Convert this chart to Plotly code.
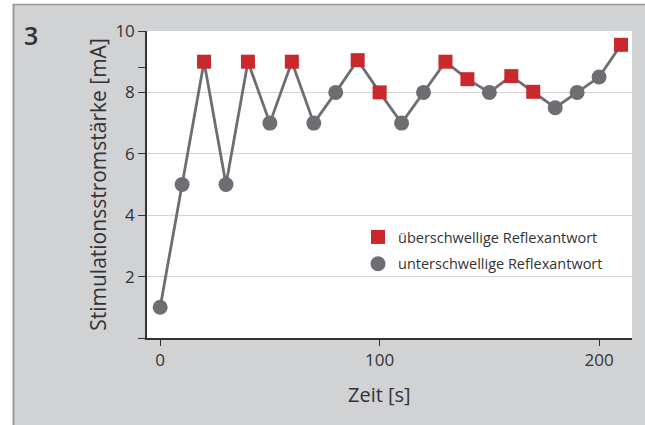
import plotly.graph_objects as go

# Data
zeit = [0, 10, 20, 30, 40, 50, 60, 70, 80, 90, 100, 110, 120, 130, 140, 150, 160, 170, 180, 190, 200, 210]
strom = [1, 5, 9, 5, 9, 7, 9, 7, 8, 9.05, 8, 7, 8, 9, 8.43, 8, 8.53, 8.02, 7.5, 8, 8.5, 9.55]
ueber = [False, False, True, False, True, False, True, False, False, True, True, False, False, True, True, False, True, True, False, False, False, True]

x_ticks = [0, 100, 200]
y_ticks = [0, 2, 4, 6, 8, 10]
y_ticktext = ["", "2", "4", "6", "8", "10"]

RED = "#c9282d"
GRAY = "#6d6e72"
TXT = "#333335"
BG = "#d1d2d4"
FONT = "Open Sans"

xs_u = [x for x, f in zip(zeit, ueber) if f]
ys_u = [y for y, f in zip(strom, ueber) if f]
xs_n = [x for x, f in zip(zeit, ueber) if not f]
ys_n = [y for y, f in zip(strom, ueber) if not f]

fig = go.Figure()
fig.add_trace(go.Scatter(x=zeit, y=strom, mode="lines", line=dict(color=GRAY, width=2.8),
                         showlegend=False, hoverinfo="skip", cliponaxis=False))
fig.add_trace(go.Scatter(x=xs_u, y=ys_u, mode="markers", name="überschwellige Reflexantwort",
                         marker=dict(symbol="square", size=14, color=RED), legendgroup="a",
                         cliponaxis=False))
fig.add_trace(go.Scatter(x=xs_n, y=ys_n, mode="markers", name="unterschwellige Reflexantwort",
                         marker=dict(symbol="circle", size=15, color=GRAY), legendgroup="b",
                         cliponaxis=False))

W, H = 645, 425
L, R, T, B = 147, 13, 31, 87
pw, ph = W - L - R, H - T - B

def px(xp):
    return (xp - L) / pw

def py(yp):
    return (H - B - yp) / ph

fig.update_layout(
    width=W, height=H,
    margin=dict(l=L, r=R, t=T, b=B, pad=0),
    paper_bgcolor=BG, plot_bgcolor="white",
    font=dict(family=FONT, color=TXT),
    showlegend=True,
    legend=dict(x=px(358), y=py(221), xanchor="left", yanchor="top",
                bgcolor="rgba(0,0,0,0)", font=dict(size=14.5, color=TXT),
                tracegroupgap=5, traceorder="grouped"),
    xaxis=dict(range=[-6, 215], tickvals=x_ticks, ticks="outside", ticklen=6,
               tickcolor=TXT, tickwidth=1.2, showline=True, linecolor=TXT, linewidth=1.5,
               showgrid=False, zeroline=False, tickfont=dict(size=17, color=TXT)),
    yaxis=dict(range=[0, 10], tickvals=y_ticks, ticktext=y_ticktext, ticks="outside", ticklen=7,
               tickcolor=TXT, tickwidth=1.2, showline=True, linecolor=TXT, linewidth=1.5,
               showgrid=True, gridcolor="#d3d3d3", gridwidth=1, zeroline=False,
               tickfont=dict(size=17, color=TXT),
               title=dict(text="Stimulationsstromstärke [mA]", font=dict(size=21, color=TXT), standoff=3),
               minor=dict(tickvals=[8.8], ticks="outside", ticklen=7, tickcolor=TXT, showgrid=False)),
    shapes=[
        dict(type="rect", xref="paper", yref="paper", x0=px(0), x1=px(W), y0=py(0), y1=py(4),
             fillcolor="white", line=dict(width=0), layer="below"),
        dict(type="rect", xref="paper", yref="paper", x0=px(0), x1=px(13), y0=py(H), y1=py(0),
             fillcolor="white", line=dict(width=0), layer="below"),
        dict(type="line", xref="paper", yref="paper", x0=px(13), x1=px(W), y0=py(4.5), y1=py(4.5),
             line=dict(color="#9a9a9c", width=1.5)),
        dict(type="line", xref="paper", yref="paper", x0=px(13.5), x1=px(13.5), y0=py(4), y1=py(H),
             line=dict(color="#9a9a9c", width=2)),
    ],
    annotations=[
        dict(text="3", xref="paper", yref="paper", x=px(31), y=py(35), xanchor="center", yanchor="middle",
             showarrow=False, font=dict(size=25, color=TXT, weight=600)),
        dict(text="Zeit [s]", xref="x", yref="paper", x=100, y=py(394), xanchor="center", yanchor="middle",
             showarrow=False, font=dict(size=20, color=TXT)),
    ],
)

fig.write_html("out.html", config={"displayModeBar": False},
               post_script="document.body.style.margin='0px';")
